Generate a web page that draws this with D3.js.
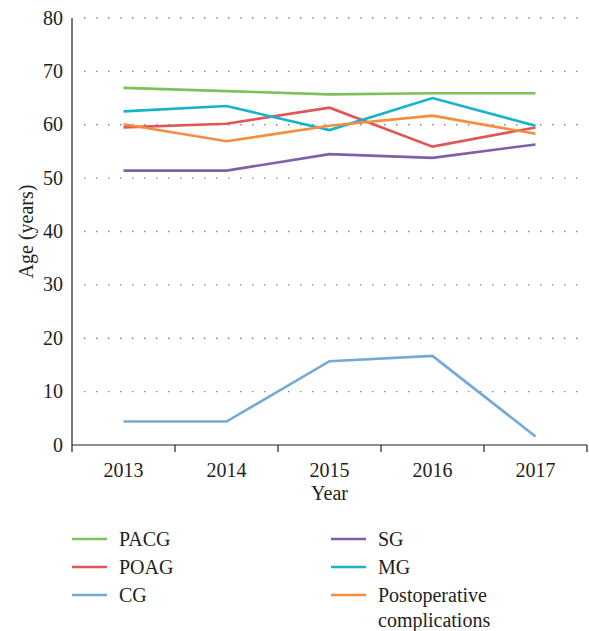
<!DOCTYPE html>
<html>
<head>
<meta charset="utf-8">
<script src="https://cdn.jsdelivr.net/npm/d3@7"></script>
<style>
  body { margin: 0; background: #fff; }
  text { font-family: "Liberation Serif", "DejaVu Serif", serif; fill: #231f20; }
</style>
</head>
<body>
<div id="chart"></div>
<script>
// data
var years = ["2013", "2014", "2015", "2016", "2017"];
var yTicks = [0, 10, 20, 30, 40, 50, 60, 70, 80];
var seriesNames = ["PACG", "POAG", "CG", "SG", "MG", "Postoperative complications"];
var seriesColors = ["#7dc15b", "#e05656", "#72a9d8", "#7f5fa9", "#14b4cc", "#f58d3f"];
var pacg = [66.9, 66.3, 65.7, 65.9, 65.9];
var poag = [59.5, 60.2, 63.2, 55.9, 59.5];
var cg = [4.4, 4.4, 15.7, 16.7, 1.6];
var sg = [51.4, 51.4, 54.5, 53.8, 56.3];
var mg = [62.5, 63.5, 59.0, 65.0, 59.8];
var postop = [60.1, 56.9, 59.8, 61.7, 58.3];
var seriesValues = [pacg, poag, cg, sg, mg, postop];

var W = 589, H = 631;
var margin = {top: 18, right: 2, bottom: 186, left: 72},
    width = W - margin.left - margin.right,
    height = H - margin.top - margin.bottom;

var svg = d3.select("#chart")
  .append("svg")
  .attr("width", W)
  .attr("height", H)
  .append("g")
  .attr("transform", "translate(" + margin.left + "," + margin.top + ")");

var x = d3.scaleBand().domain(years).range([0, width]);
var y = d3.scaleLinear().domain([0, 80]).range([height, 0]);

// dotted gridlines
svg.selectAll(".grid")
  .data(yTicks.filter(function(d) { return d > 0; }))
  .enter().append("line")
  .attr("x1", 12).attr("x2", width - 8)
  .attr("y1", function(d) { return y(d); })
  .attr("y2", function(d) { return y(d); })
  .attr("stroke", "#8a8a8a")
  .attr("stroke-width", 1.3)
  .attr("stroke-dasharray", "1.5,10.5");

// y axis: line only plus labels
svg.append("line")
  .attr("x1", 0).attr("x2", 0)
  .attr("y1", 0).attr("y2", height)
  .attr("stroke", "#231f20").attr("stroke-width", 1.2);
svg.selectAll(".ylab")
  .data(yTicks)
  .enter().append("text")
  .attr("x", -9)
  .attr("y", function(d) { return y(d); })
  .attr("dy", "0.33em")
  .attr("text-anchor", "end")
  .style("font-size", "20px")
  .text(function(d) { return d; });

// x axis with ticks at band edges
var xg = svg.append("g").attr("transform", "translate(0," + height + ")");
xg.append("line")
  .attr("x1", 0).attr("x2", width)
  .attr("stroke", "#231f20").attr("stroke-width", 1.2);
var edges = years.map(function(d) { return x(d); }).concat([width]);
xg.selectAll(".tick")
  .data(edges)
  .enter().append("line")
  .attr("x1", function(d) { return d; })
  .attr("x2", function(d) { return d; })
  .attr("y1", 0).attr("y2", 7)
  .attr("stroke", "#231f20").attr("stroke-width", 1.2);
xg.selectAll(".xlab")
  .data(years)
  .enter().append("text")
  .attr("x", function(d) { return x(d) + x.bandwidth() / 2; })
  .attr("y", 32)
  .attr("text-anchor", "middle")
  .style("font-size", "20px")
  .text(function(d) { return d; });

// axis titles
svg.append("text")
  .attr("x", x("2015") + x.bandwidth() / 2)
  .attr("y", height + 55)
  .attr("text-anchor", "middle")
  .style("font-size", "20px")
  .text("Year");
svg.append("text")
  .attr("transform", "translate(-39," + (height / 2) + ") rotate(-90)")
  .attr("text-anchor", "middle")
  .style("font-size", "20px")
  .text("Age (years)");

// lines
var line = d3.line()
  .x(function(d, i) { return x(years[i]) + x.bandwidth() / 2; })
  .y(function(d) { return y(d); });

seriesValues.forEach(function(vals, i) {
  svg.append("path")
    .datum(vals)
    .attr("fill", "none")
    .attr("stroke", seriesColors[i])
    .attr("stroke-width", 2.6)
    .attr("stroke-linejoin", "miter")
    .attr("d", line);
});

// legend
var legend = d3.select("svg").append("g");
seriesNames.forEach(function(name, i) {
  var col = Math.floor(i / 3), row = i % 3;
  var lx = col === 0 ? 72 : 331;
  var ly = 539 + row * 28;
  legend.append("line")
    .attr("x1", lx).attr("x2", lx + 35)
    .attr("y1", ly).attr("y2", ly)
    .attr("stroke", seriesColors[i])
    .attr("stroke-width", 2.6);
  var t = legend.append("text")
    .attr("x", lx + 47)
    .attr("y", ly)
    .attr("dy", "0.33em")
    .style("font-size", "20px");
  if (name === "Postoperative complications") {
    t.append("tspan").attr("x", lx + 47).text("Postoperative");
    t.append("tspan").attr("x", lx + 47).attr("dy", "1.25em").text("complications");
  } else {
    t.text(name);
  }
});
</script>
</body>
</html>
